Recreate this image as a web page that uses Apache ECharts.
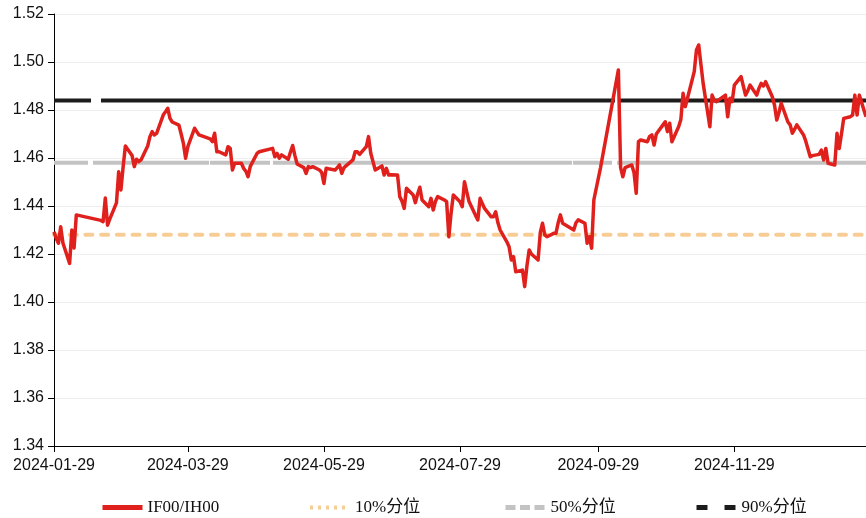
<!DOCTYPE html>
<html>
<head>
<meta charset="utf-8">
<script src="https://cdn.jsdelivr.net/npm/echarts@6/dist/echarts.min.js"></script>
<style>
  html, body { margin: 0; padding: 0; background: #fff; }
  #chart { width: 866px; height: 518px; }
</style>
</head>
<body>
<div id="chart"></div>
<script>
// IF00/IH00 price ratio, daily close
const tradeDates = [
  '2024-01-29','2024-01-30','2024-01-31','2024-02-01','2024-02-02','2024-02-05','2024-02-06','2024-02-07','2024-02-08',
  '2024-02-19','2024-02-20','2024-02-21','2024-02-22','2024-02-23','2024-02-26','2024-02-27','2024-02-28','2024-02-29',
  '2024-03-01','2024-03-04','2024-03-05','2024-03-06','2024-03-07','2024-03-08','2024-03-11','2024-03-12','2024-03-13',
  '2024-03-14','2024-03-15','2024-03-18','2024-03-19','2024-03-20','2024-03-21','2024-03-22','2024-03-25','2024-03-26',
  '2024-03-27','2024-03-28','2024-03-29','2024-04-01','2024-04-02','2024-04-03','2024-04-08','2024-04-09','2024-04-10',
  '2024-04-11','2024-04-12','2024-04-15','2024-04-16','2024-04-17','2024-04-18','2024-04-19','2024-04-22','2024-04-23',
  '2024-04-24','2024-04-25','2024-04-26','2024-04-29','2024-04-30','2024-05-06','2024-05-07','2024-05-08','2024-05-09',
  '2024-05-10','2024-05-13','2024-05-14','2024-05-15','2024-05-16','2024-05-17','2024-05-20','2024-05-21','2024-05-22',
  '2024-05-23','2024-05-24','2024-05-27','2024-05-28','2024-05-29','2024-05-30','2024-05-31','2024-06-03','2024-06-04',
  '2024-06-05','2024-06-06','2024-06-07','2024-06-11','2024-06-12','2024-06-13','2024-06-14','2024-06-17','2024-06-18',
  '2024-06-19','2024-06-20','2024-06-21','2024-06-24','2024-06-25','2024-06-26','2024-06-27','2024-06-28','2024-07-01',
  '2024-07-02','2024-07-03','2024-07-04','2024-07-05','2024-07-08','2024-07-09','2024-07-10','2024-07-11','2024-07-12',
  '2024-07-15','2024-07-16','2024-07-17','2024-07-18','2024-07-19','2024-07-22','2024-07-23','2024-07-24','2024-07-25',
  '2024-07-26','2024-07-29','2024-07-30','2024-07-31','2024-08-01','2024-08-02','2024-08-05','2024-08-06','2024-08-07',
  '2024-08-08','2024-08-09','2024-08-12','2024-08-13','2024-08-14','2024-08-15','2024-08-16','2024-08-19','2024-08-20',
  '2024-08-21','2024-08-22','2024-08-23','2024-08-26','2024-08-27','2024-08-28','2024-08-29','2024-08-30','2024-09-02',
  '2024-09-03','2024-09-04','2024-09-05','2024-09-06','2024-09-09','2024-09-10','2024-09-11','2024-09-12','2024-09-13',
  '2024-09-18','2024-09-19','2024-09-20','2024-09-23','2024-09-24','2024-09-25','2024-09-26','2024-09-27','2024-09-30',
  '2024-10-08','2024-10-09','2024-10-10','2024-10-11','2024-10-14','2024-10-15','2024-10-16','2024-10-17','2024-10-18',
  '2024-10-21','2024-10-22','2024-10-23','2024-10-24','2024-10-25','2024-10-28','2024-10-29','2024-10-30','2024-10-31',
  '2024-11-01','2024-11-04','2024-11-05','2024-11-06','2024-11-07','2024-11-08','2024-11-11','2024-11-12','2024-11-13',
  '2024-11-14','2024-11-15','2024-11-18','2024-11-19','2024-11-20','2024-11-21','2024-11-22','2024-11-25','2024-11-26',
  '2024-11-27','2024-11-28','2024-11-29','2024-12-02','2024-12-03','2024-12-04','2024-12-05','2024-12-06','2024-12-09',
  '2024-12-10','2024-12-11','2024-12-12','2024-12-13','2024-12-16','2024-12-17','2024-12-18','2024-12-19','2024-12-20',
  '2024-12-23','2024-12-24','2024-12-25','2024-12-26','2024-12-27','2024-12-30','2024-12-31','2025-01-02','2025-01-03',
  '2025-01-06','2025-01-07','2025-01-08','2025-01-09','2025-01-10','2025-01-13','2025-01-14','2025-01-15','2025-01-16',
  '2025-01-17','2025-01-20','2025-01-21','2025-01-22','2025-01-23','2025-01-24','2025-01-27'
];

const ratio = [
  1.4293,1.4265,1.4245,1.4314,1.4246,1.4161,1.4300,1.4225,1.4363,
  1.4340,1.4335,1.4433,1.4320,1.4345,1.4413,1.4543,1.4467,1.4564,
  1.4650,1.4610,1.4564,1.4595,1.4585,1.4592,1.4650,1.4689,1.4710,
  1.4696,1.4703,1.4780,1.4793,1.4807,1.4765,1.4750,1.4737,1.4700,
  1.4661,1.4599,1.4647,1.4724,1.4710,1.4696,1.4680,1.4668,1.4703,
  1.4626,1.4626,1.4613,1.4647,1.4640,1.4550,1.4578,1.4578,1.4557,
  1.4545,1.4522,1.4565,1.4619,1.4626,1.4640,1.4605,1.4619,1.4599,
  1.4613,1.4595,1.4625,1.4652,1.4610,1.4575,1.4560,1.4536,1.4564,
  1.4560,1.4564,1.4550,1.4540,1.4494,1.4557,1.4555,1.4550,1.4560,
  1.4571,1.4536,1.4560,1.4592,1.4626,1.4626,1.4615,1.4647,1.4689,
  1.4620,1.4585,1.4550,1.4567,1.4529,1.4557,1.4529,1.4530,1.4529,
  1.4439,1.4420,1.4390,1.4474,1.4446,1.4414,1.4450,1.4478,1.4425,
  1.4397,1.4432,1.4383,1.4420,1.4439,1.4425,1.4418,1.4272,1.4370,
  1.4446,1.4418,1.4397,1.4501,1.4460,1.4420,1.4360,1.4342,1.4432,
  1.4410,1.4390,1.4355,1.4355,1.4376,1.4330,1.4300,1.4251,1.4230,
  1.4175,1.4189,1.4126,1.4133,1.4064,1.4150,1.4217,1.4200,1.4175,
  1.4290,1.4328,1.4280,1.4272,1.4286,1.4286,1.4330,1.4363,1.4328,
  1.4300,1.4330,1.4342,1.4328,1.4245,1.4272,1.4224,1.4425,1.4560,
  1.4967,1.4560,1.4522,1.4560,1.4571,1.4540,1.4453,1.4668,1.4675,
  1.4668,1.4690,1.4696,1.4654,1.4700,1.4738,1.4751,1.4710,1.4745,
  1.4668,1.4730,1.4760,1.4870,1.4814,1.4850,1.4960,1.5050,1.5071,
  1.4990,1.4911,1.4730,1.4862,1.4840,1.4835,1.4842,1.4862,1.4772,
  1.4849,1.4835,1.4904,1.4939,1.4900,1.4862,1.4880,1.4904,1.4862,
  1.4890,1.4911,1.4900,1.4918,1.4855,1.4820,1.4758,1.4790,1.4828,
  1.4750,1.4738,1.4703,1.4720,1.4738,1.4696,1.4670,1.4605,1.4610,
  1.4615,1.4633,1.4592,1.4640,1.4578,1.4571,1.4703,1.4640,1.4700,
  1.4765,1.4772,1.4779,1.4862,1.4779,1.4862,1.4772
];

// Historical percentile levels of the ratio
const pct10 = 1.428;
const pct50 = 1.458;
const pct90 = 1.484;

const seriesNames = ['IF00/IH00', '10%分位', '50%分位', '90%分位'];
const xTickDates = ['2024-01-29', '2024-03-29', '2024-05-29', '2024-07-29', '2024-09-29', '2024-11-29'];
const yMin = 1.34, yMax = 1.52, yStep = 0.02;

// The x axis runs in calendar days counted from the first trading date
const DAY = 86400000;
function toUTC(s) {
  const p = s.split('-').map(Number);
  return Date.UTC(p[0], p[1] - 1, p[2]);
}
const originT = toUTC(tradeDates[0]);
const dayOf = s => Math.round((toUTC(s) - originT) / DAY);
function pad(n) { return n < 10 ? '0' + n : '' + n; }
function dayLabel(v) {
  const d = new Date(originT + Math.round(v) * DAY);
  return d.getUTCFullYear() + '-' + pad(d.getUTCMonth() + 1) + '-' + pad(d.getUTCDate());
}

const lastDay = dayOf(tradeDates[tradeDates.length - 1]);
const ratioData = tradeDates.map((d, i) => [dayOf(d), ratio[i]]);
const flat = v => [[0, v], [lastDay, v]];
const tickDays = xTickDates.map(dayOf);

const chart = echarts.init(document.getElementById('chart'), null, { renderer: 'canvas' });

const legendText = {
  fontFamily: '"Liberation Serif", "Noto Sans CJK SC", serif',
  fontSize: 17,
  color: '#111'
};
// one legend block per entry so each sits at its own position; no marker dot on the line icon
function legendAt(left, name, lineStyle) {
  return {
    left: left, top: 494,
    itemWidth: 40, itemHeight: 14,
    data: [{ name: name, lineStyle: lineStyle, itemStyle: { opacity: 0 } }],
    textStyle: legendText,
    selectedMode: false
  };
}

chart.setOption({
  animation: false,
  backgroundColor: '#ffffff',
  grid: { left: 54, right: 0, top: 14, bottom: 72, containLabel: false },
  legend: [
    legendAt(95, seriesNames[0], { type: 'solid', width: 5 }),
    legendAt(303, seriesNames[1], { type: [3, 5], width: 4, cap: 'butt' }),
    legendAt(498, seriesNames[2], { type: [10, 4.5], width: 5, cap: 'butt' }),
    legendAt(689, seriesNames[3], { type: [11, 17], width: 5, cap: 'butt' })
  ],
  xAxis: {
    type: 'value',
    min: 0,
    max: lastDay,
    axisLine: { show: true, onZero: false, lineStyle: { color: '#000', width: 1 } },
    axisTick: { show: true, length: 6, lineStyle: { color: '#000' }, customValues: tickDays },
    axisLabel: {
      customValues: tickDays,
      formatter: v => dayLabel(v),
      margin: 12,
      color: '#111',
      fontFamily: '"Liberation Sans", Arial, sans-serif',
      fontSize: 16
    },
    splitLine: { show: false }
  },
  yAxis: {
    type: 'value',
    min: yMin,
    max: yMax,
    interval: yStep,
    axisLine: { show: true, lineStyle: { color: '#000', width: 1 } },
    axisTick: { show: true, length: 6, lineStyle: { color: '#000' } },
    axisLabel: {
      formatter: v => v.toFixed(2),
      margin: 10,
      color: '#111',
      fontFamily: '"Liberation Sans", Arial, sans-serif',
      fontSize: 16
    },
    splitLine: { show: true, lineStyle: { color: '#eeeeee', width: 1 } }
  },
  series: [
    {
      name: seriesNames[1], type: 'line', data: flat(pct10), symbol: 'none', z: 2,
      lineStyle: { color: '#f8cd95', width: 4, type: [7, 8.7], cap: 'round' },
      itemStyle: { color: '#f8cd95' }
    },
    {
      name: seriesNames[2], type: 'line', data: flat(pct50), symbol: 'none', z: 2,
      lineStyle: { color: '#c3c3c3', width: 4, type: [34, 5, 116, 1, 60, 3, 299, 1, 39, 5, 400], cap: 'butt' },
      itemStyle: { color: '#c3c3c3' }
    },
    {
      name: seriesNames[3], type: 'line', data: flat(pct90), symbol: 'none', z: 2,
      lineStyle: { color: '#1c1c1c', width: 4, type: [37, 10, 514, 4, 400], cap: 'butt' },
      itemStyle: { color: '#1c1c1c' }
    },
    {
      name: seriesNames[0], type: 'line', data: ratioData, symbol: 'none', z: 3,
      lineStyle: { color: '#e0201c', width: 3.5, join: 'round' },
      itemStyle: { color: '#e0201c' }
    }
  ]
});
</script>
</body>
</html>
